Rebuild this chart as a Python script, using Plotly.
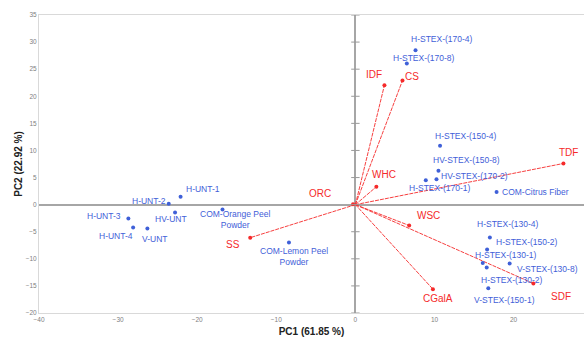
import plotly.graph_objects as go

# ---- Data (PCA scores) ----
sample_names = ["H-UNT-1", "H-UNT-2", "HV-UNT", "H-UNT-3", "H-UNT-4", "V-UNT",
                "COM-Orange Peel<br>Powder", "COM-Lemon Peel<br>Powder",
                "H-STEX-(170-4)", "H-STEX-(170-8)", "H-STEX-(150-4)", "HV-STEX-(150-8)",
                "HV-STEX-(170-2)", "H-STEX-(170-1)", "COM-Citrus Fiber",
                "H-STEX-(130-4)", "H-STEX-(150-2)", "H-STEX-(130-1)", "H-STEX-(130-2)",
                "V-STEX-(130-8)", "V-STEX-(150-1)"]
sample_pc1 = [-22.1, -23.6, -22.8, -28.7, -28.1, -26.3, -16.8, -8.4,
              7.6, 6.5, 10.7, 10.5, 10.25, 8.9, 17.85,
              17.0, 16.65, 16.1, 16.6, 19.5, 16.8]
sample_pc2 = [1.45, 0.15, -1.45, -2.55, -4.2, -4.4, -0.9, -7.0,
              28.5, 26.05, 10.85, 6.25, 4.7, 4.5, 2.35,
              -6.05, -8.3, -10.75, -11.6, -10.85, -15.45]

# ---- Data (loadings / variable vectors) ----
var_names = ["IDF", "CS", "TDF", "WHC", "ORC", "WSC", "SS", "SDF", "CGalA"]
var_pc1 = [3.67, 5.95, 26.3, 2.65, -0.3, 6.8, -13.3, 22.5, 9.8]
var_pc2 = [22.05, 22.9, 7.6, 3.3, 0.05, -3.85, -6.1, -14.55, -15.6]

x_ticks = [-40, -30, -20, -10, 0, 10, 20]
y_ticks = [-20, -15, -10, -5, 0, 5, 10, 15, 20, 25, 30, 35]

# ---- Label offsets in pixels (style only) ----
sample_label_shift = [(22, 8), (-20, 3), (-4, -7), (-24, 2), (-17, -9), (8, -11),
                      (12, -10), (5, -14),
                      (26, 11), (17, 5), (26, 10), (28, 11),
                      (38, 3), (14, -8), (39, 0),
                      (18, 13), (40, 8), (23, 8), (25, -13), (38, -6), (16, -12)]
var_label_shift = [(-10, 11), (10, 4), (5, 11), (8, 12), (-33, 11), (19, 10),
                   (-17, -7), (28, -13), (5, -9)]

BLUE = "#3f60d8"
RED = "#f52a2a"
FONT = "Liberation Sans, Arial, sans-serif"

fig = go.Figure()

# vector lines
lx, ly = [], []
for vx, vy in zip(var_pc1, var_pc2):
    lx += [0, vx, None]
    ly += [0, vy, None]
fig.add_trace(go.Scatter(x=lx, y=ly, mode="lines",
                         line=dict(color=RED, width=0.9, dash="4px,1px"),
                         hoverinfo="skip", showlegend=False))
fig.add_trace(go.Scatter(x=var_pc1, y=var_pc2, mode="markers",
                         marker=dict(color=RED, size=4),
                         text=var_names, showlegend=False))
# sample points
fig.add_trace(go.Scatter(x=sample_pc1, y=sample_pc2, mode="markers",
                         marker=dict(color=BLUE, size=4),
                         text=sample_names, showlegend=False))
# tick marks on vertical axis at x = 0
fig.add_trace(go.Scatter(x=[0] * len(y_ticks), y=y_ticks, mode="markers",
                         marker=dict(symbol="line-ew", size=6,
                                     line=dict(color="#9a9a9a", width=1)),
                         hoverinfo="skip", showlegend=False))

annotations = []
for name, x, y, (dx, dy) in zip(sample_names, sample_pc1, sample_pc2, sample_label_shift):
    annotations.append(dict(x=x, y=y, text=name, showarrow=False, xshift=dx, yshift=dy,
                            font=dict(family=FONT, size=8.5, color=BLUE)))
for name, x, y, (dx, dy) in zip(var_names, var_pc1, var_pc2, var_label_shift):
    annotations.append(dict(x=x, y=y, text=name, showarrow=False, xshift=dx, yshift=dy,
                            font=dict(family=FONT, size=10, color=RED)))

fig.update_layout(
    width=584, height=337,
    margin=dict(l=39, r=0, t=15, b=24),
    paper_bgcolor="white", plot_bgcolor="white",
    font=dict(family=FONT),
    annotations=annotations,
    xaxis=dict(range=[-40, 28.9], tickvals=x_ticks, showgrid=False,
               zeroline=True, zerolinecolor="#a6a6a6", zerolinewidth=1.5,
               showline=True, mirror=True, linecolor="#d9d9d9", linewidth=1,
               ticks="", tickfont=dict(size=6.5, color="#808080"),
               title=dict(text="<b>PC1 (61.85 %)</b>", standoff=8,
                          font=dict(size=10, color="#222222")),
               automargin=False),
    yaxis=dict(range=[-20, 35], tickvals=y_ticks, showgrid=False,
               zeroline=True, zerolinecolor="#a6a6a6", zerolinewidth=1.5,
               showline=True, mirror=False, linecolor="#d9d9d9", linewidth=1,
               ticks="", tickfont=dict(size=6.5, color="#808080"),
               title=dict(text="<b>PC2 (22.92 %)</b>", standoff=1,
                          font=dict(size=10, color="#222222")),
               automargin=False),
)

fig.write_html("out.html",
               config={"displayModeBar": False},
               post_script="document.body.style.margin='0';document.body.style.overflow='hidden';")
